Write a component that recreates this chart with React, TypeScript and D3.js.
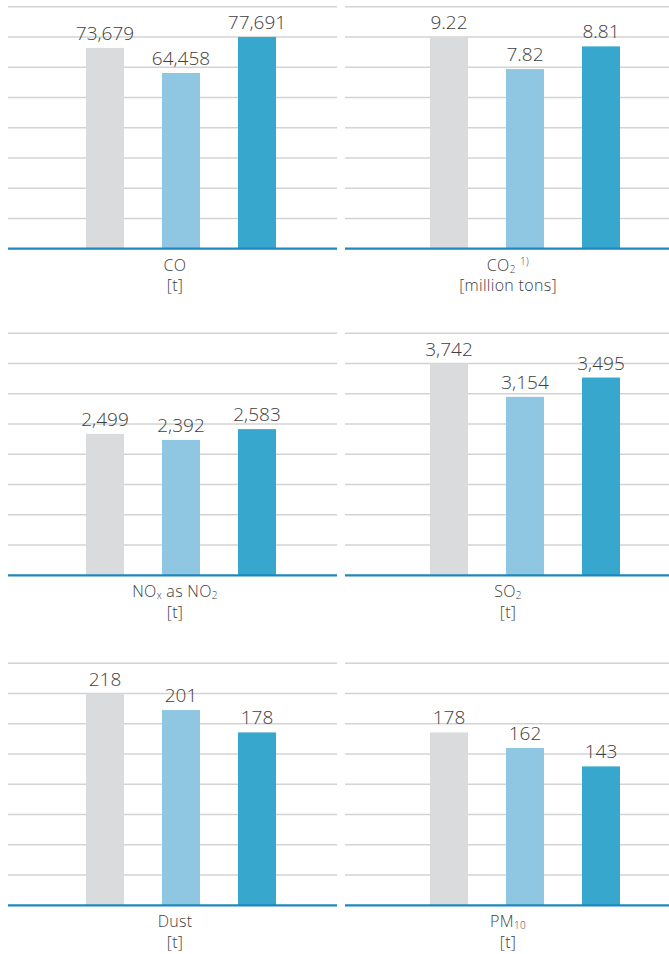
import React from "react";
import * as d3 from "d3";

// ---- data ----
const categories = ["CO", "CO2", "NOx as NO2", "SO2", "Dust", "PM10"];
const units = ["[t]", "[million tons]", "[t]", "[t]", "[t]", "[t]"];
const series = ["Year 1", "Year 2", "Year 3"];
const valuesYear1 = [73679, 9.22, 2499, 3742, 218, 178];
const valuesYear2 = [64458, 7.82, 2392, 3154, 201, 162];
const valuesYear3 = [77691, 8.81, 2583, 3495, 178, 143];
// panels sharing a value scale
const scaleGroups = [0, 1, 2, 2, 3, 3];

type Part = { t: string; sub?: boolean; sup?: boolean };
const labelParts: Part[][] = [
  [{ t: "CO" }],
  [{ t: "CO" }, { t: "2", sub: true }, { t: "  " }, { t: "1)", sup: true }],
  [{ t: "NO" }, { t: "x", sub: true }, { t: " as NO" }, { t: "2", sub: true }],
  [{ t: "SO" }, { t: "2", sub: true }],
  [{ t: "Dust" }],
  [{ t: "PM" }, { t: "10", sub: true }],
];

const colors = ["#dadbdd", "#8fc6e1", "#37a7ce"];

// ---- layout ----
const W = 669;
const H = 954;
const colX = [8, 345];
const colW = [329, 330];
const bandRange = [
  [59, 287],
  [66, 294],
];
const labelCx = [167, 163];
const rowTop = [6.7, 333.3, 663.3];
const plotH = 242;
const nGrid = 8;
const FONT = "'Open Sans', Lato, sans-serif";
const TXT = "#404040";
const LABEL_FS = 16;

const allSeries = [valuesYear1, valuesYear2, valuesYear3];

function fmt(v: number) {
  return Number.isInteger(v) ? d3.format(",")(v) : d3.format(".2f")(v);
}

function shiftOf(p: Part) {
  return p.sub ? 2 : p.sup ? -6 : 0;
}

export default function App() {
  const groupMax: Record<number, number> = {};
  categories.forEach((_, i) => {
    const m = d3.max(allSeries, (s) => s[i]) as number;
    const g = scaleGroups[i];
    groupMax[g] = Math.max(groupMax[g] ?? 0, m);
  });

  return (
    <svg width={W} height={H} style={{ position: "absolute", left: 0, top: 0 }}>
      {categories.map((cat, i) => {
        const col = i % 2;
        const row = Math.floor(i / 2);
        const x0 = colX[col];
        const y0 = rowTop[row];
        const y = d3
          .scaleLinear()
          .domain([0, (groupMax[scaleGroups[i]] * nGrid) / 7])
          .range([plotH, 0]);
        const x = d3
          .scaleBand<string>()
          .domain(series)
          .range(bandRange[col] as [number, number])
          .paddingInner(0.5)
          .paddingOuter(0.25);
        const gridTicks = d3.range(1, nGrid + 1).map((k) => (k * y.domain()[1]) / nGrid);
        const parts = labelParts[i];
        return (
          <g key={cat} transform={`translate(${x0},${y0})`}>
            {gridTicks.map((t, k) => (
              <line
                key={k}
                x1={0}
                x2={colW[col]}
                y1={y(t)}
                y2={y(t)}
                stroke="#d3d3d3"
                strokeWidth={1.4}
              />
            ))}
            {series.map((s, j) => {
              const v = allSeries[j][i];
              return (
                <g key={s}>
                  <rect
                    x={x(s)}
                    y={y(v)}
                    width={x.bandwidth()}
                    height={plotH - y(v)}
                    fill={colors[j]}
                  />
                  <text
                    x={(x(s) as number) + x.bandwidth() / 2}
                    y={y(v) - 8}
                    textAnchor="middle"
                    fontFamily={FONT}
                    fontWeight={300}
                    fontSize={19}
                    fill={TXT}
                  >
                    {fmt(v)}
                  </text>
                </g>
              );
            })}
            <line
              x1={0}
              x2={colW[col]}
              y1={plotH}
              y2={plotH}
              stroke="#1c88bd"
              strokeWidth={2.2}
            />
            <text
              x={labelCx[col]}
              y={plotH + 22}
              textAnchor="middle"
              fontFamily={FONT}
              fontWeight={300}
              fontSize={LABEL_FS}
              letterSpacing={0.3}
              fill={TXT}
            >
              {parts.map((p, k) => {
                const prev = k > 0 ? shiftOf(parts[k - 1]) : 0;
                return (
                  <tspan
                    key={k}
                    fontSize={p.sub || p.sup ? 10 : LABEL_FS}
                    dy={shiftOf(p) - prev}
                  >
                    {p.t}
                  </tspan>
                );
              })}
            </text>
            <text
              x={labelCx[col]}
              y={plotH + 42.5}
              textAnchor="middle"
              fontFamily={FONT}
              fontWeight={300}
              fontSize={LABEL_FS}
              letterSpacing={0.3}
              fill={TXT}
            >
              {units[i]}
            </text>
          </g>
        );
      })}
    </svg>
  );
}
